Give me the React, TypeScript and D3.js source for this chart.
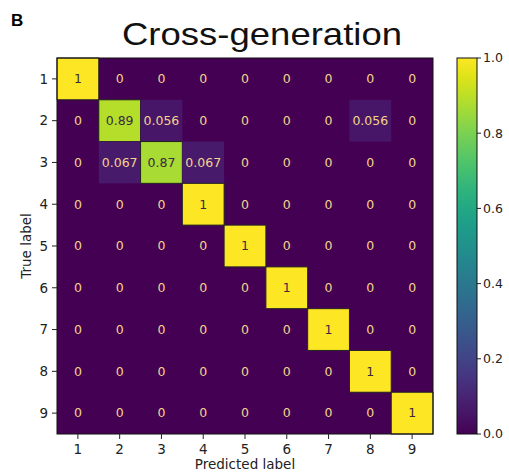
import React from "react";
import * as d3 from "d3";

const labels = ["1", "2", "3", "4", "5", "6", "7", "8", "9"];
const matrix: number[][] = [
  [1, 0, 0, 0, 0, 0, 0, 0, 0],
  [0, 0.89, 0.056, 0, 0, 0, 0, 0.056, 0],
  [0, 0.067, 0.87, 0.067, 0, 0, 0, 0, 0],
  [0, 0, 0, 1, 0, 0, 0, 0, 0],
  [0, 0, 0, 0, 1, 0, 0, 0, 0],
  [0, 0, 0, 0, 0, 1, 0, 0, 0],
  [0, 0, 0, 0, 0, 0, 1, 0, 0],
  [0, 0, 0, 0, 0, 0, 0, 1, 0],
  [0, 0, 0, 0, 0, 0, 0, 0, 1],
];
const cbTicks = [0, 0.2, 0.4, 0.6, 0.8, 1.0];

const W = 509, H = 474;
const left = 57, top = 58, size = 376;
const cbX = 457, cbW = 20;
const font = "DejaVu Sans, sans-serif";

export default function App() {
  const x = d3.scaleBand<string>().domain(labels).range([left, left + size]);
  const y = d3.scaleBand<string>().domain(labels).range([top, top + size]);
  const cb = d3.scaleLinear().domain([0, 1]).range([top + size, top]);
  const color = (v: number) => d3.interpolateViridis(v);
  const fmt = (v: number) => (v === 0 ? "0" : v === 1 ? "1" : String(v));
  const stops = d3.range(0, 1.0001, 0.05);

  return (
    <svg width={W} height={H} style={{ position: "absolute", left: 0, top: 0 }}>
      <defs>
        <linearGradient id="cbg" x1="0" y1="1" x2="0" y2="0">
          {stops.map((s) => (
            <stop key={s} offset={s} stopColor={color(s)} />
          ))}
        </linearGradient>
      </defs>
      <rect width={W} height={H} fill="#fff" />
      <text x={11} y={26} fontFamily="Liberation Sans, Arial, sans-serif" fontWeight="bold" fontSize={17}>B</text>
      <text x={122} y={45} textLength={280} lengthAdjust="spacingAndGlyphs" fontFamily="Liberation Sans, Arial, sans-serif" fontSize={32} fill="#111">Cross-generation</text>
      <rect x={left} y={top} width={size} height={size} fill={color(0)} />
      {matrix.map((row, i) =>
        row.map((v, j) => (
          <g key={`${i}-${j}`}>
            {v > 0 && (
              <rect
                x={x(labels[j])!}
                y={y(labels[i])!}
                width={x.bandwidth()}
                height={y.bandwidth()}
                fill={color(v)}
                stroke={v > 0.5 ? "#222" : "none"}
                strokeWidth={v > 0.5 ? 1 : 0}
              />
            )}
            <text
              x={x(labels[j])! + x.bandwidth() / 2}
              y={y(labels[i])! + y.bandwidth() / 2}
              dy="0.35em"
              textAnchor="middle"
              fontFamily={font}
              fontSize={12.5}
              fill={v > 0.5 ? "#3a2a40" : "#f3d48a"}
            >
              {fmt(v)}
            </text>
          </g>
        ))
      )}
      <rect x={left} y={top} width={size} height={size} fill="none" stroke="#111" strokeWidth={1} />
      {labels.map((l) => (
        <g key={"y" + l}>
          <line x1={left - 5} x2={left} y1={y(l)! + y.bandwidth() / 2} y2={y(l)! + y.bandwidth() / 2} stroke="#222" />
          <text x={left - 9} y={y(l)! + y.bandwidth() / 2} dy="0.35em" textAnchor="end" fontFamily={font} fontSize={13.5} fill="#222">{l}</text>
        </g>
      ))}
      {labels.map((l) => (
        <g key={"x" + l}>
          <line y1={top + size} y2={top + size + 5} x1={x(l)! + x.bandwidth() / 2} x2={x(l)! + x.bandwidth() / 2} stroke="#222" />
          <text y={top + size + 20} x={x(l)! + x.bandwidth() / 2} textAnchor="middle" fontFamily={font} fontSize={13.5} fill="#222">{l}</text>
        </g>
      ))}
      <text x={245} y={469} textAnchor="middle" fontFamily={font} fontSize={13.5} fill="#222">Predicted label</text>
      <text transform={`translate(31,${top + size / 2}) rotate(-90)`} textAnchor="middle" fontFamily={font} fontSize={13.5} fill="#222">True label</text>
      <rect x={cbX} y={top} width={cbW} height={size} fill="url(#cbg)" stroke="#111" strokeWidth={1} />
      {cbTicks.map((t) => (
        <g key={"c" + t}>
          <line x1={cbX + cbW} x2={cbX + cbW + 4} y1={cb(t)} y2={cb(t)} stroke="#222" />
          <text x={cbX + cbW + 6} y={cb(t)} dy="0.35em" fontFamily={font} fontSize={12.5} fill="#222">{t.toFixed(1)}</text>
        </g>
      ))}
    </svg>
  );
}
